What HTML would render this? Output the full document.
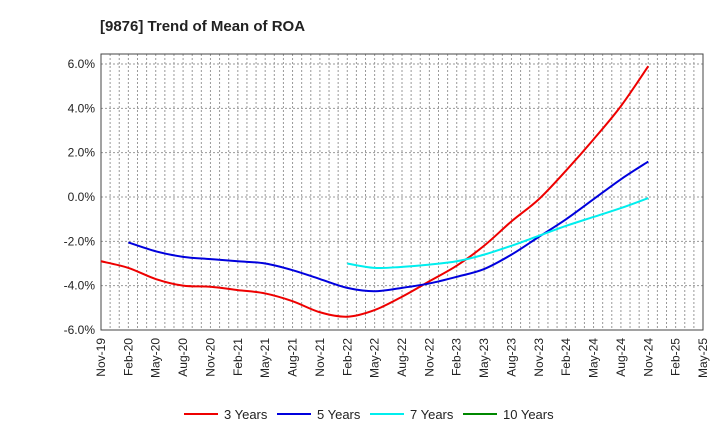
<!DOCTYPE html>
<html><head><meta charset="utf-8"><style>
body{margin:0;background:#fff;font-family:"Liberation Sans",sans-serif;}
svg text{font-family:"Liberation Sans",sans-serif;}
</style></head><body>
<svg id="chart" width="720" height="440">
<text x="100" y="31" font-size="15" font-weight="bold" fill="#222">[9876]  Trend of Mean of ROA</text>
<g id="grid"></g><g id="axes"></g><g id="series"></g><g id="legend"></g>
</svg>
<script>
const xLabels=["Nov-19","Feb-20","May-20","Aug-20","Nov-20","Feb-21","May-21","Aug-21","Nov-21","Feb-22","May-22","Aug-22","Nov-22","Feb-23","May-23","Aug-23","Nov-23","Feb-24","May-24","Aug-24","Nov-24","Feb-25","May-25"];
const yTicks=[6,4,2,0,-2,-4,-6];
const yTickLabels=["6.0%","4.0%","2.0%","0.0%","-2.0%","-4.0%","-6.0%"];
const seriesNames=["3 Years","5 Years","7 Years","10 Years"];
const seriesColors=["#ee0000","#0000dd","#00eeee","#008800"];
const seriesStart=[0,1,9,0];
const s3=[-2.9,-3.2,-3.7,-4.0,-4.05,-4.2,-4.35,-4.7,-5.2,-5.4,-5.1,-4.5,-3.8,-3.1,-2.2,-1.1,-0.1,1.2,2.6,4.1,5.9];
const s5=[-2.05,-2.45,-2.7,-2.8,-2.9,-3.0,-3.3,-3.7,-4.1,-4.25,-4.1,-3.9,-3.6,-3.25,-2.6,-1.8,-1.0,-0.1,0.8,1.6];
const s7=[-3.0,-3.2,-3.15,-3.05,-2.9,-2.6,-2.2,-1.75,-1.3,-0.9,-0.5,-0.05];
const s10=[];
const seriesData=[s3,s5,s7,s10];
const NS="http://www.w3.org/2000/svg";
const L=101,R=703,T=54,B=330;
const xq=i=>L+(R-L)*i/(xLabels.length-1);
const ys=v=>197-v*(B-64)/12;
function mk(tag,attrs,parent){const e=document.createElementNS(NS,tag);for(const k in attrs)e.setAttribute(k,attrs[k]);parent.appendChild(e);return e;}
const grid=document.getElementById('grid'),axes=document.getElementById('axes'),ser=document.getElementById('series'),leg=document.getElementById('legend');
for(let m=1;m<(xLabels.length-1)*3;m++){const x=L+(R-L)*m/((xLabels.length-1)*3);
 const g=mk('line',{x1:x,x2:x,y1:T,y2:B,stroke:'#999','stroke-dasharray':'2,2','stroke-width':1},grid);
 
 }
yTicks.forEach((v,i)=>{const y=ys(v);
 const g=mk('line',{x1:L,x2:R,y1:y,y2:y,stroke:'#999','stroke-dasharray':'2,2','stroke-width':1},grid);
 
 
 const t=mk('text',{x:L-6,y:y+4,'text-anchor':'end','font-size':12,fill:'#222'},axes);t.textContent=yTickLabels[i];
 
 });
const fr=mk('rect',{x:L,y:T,width:R-L,height:B-T,fill:'none',stroke:'#444','stroke-width':1},axes);


xLabels.forEach((lb,i)=>{const x=xq(i);
 const t=mk('text',{x:x+4,y:B+8,'text-anchor':'end','font-size':12,fill:'#222',transform:`rotate(-90 ${x+4} ${B+8})`},axes);t.textContent=lb;
 
 });
function smooth(pts){if(pts.length<2)return '';let d=`M${pts[0][0]},${pts[0][1]}`;
 for(let i=0;i<pts.length-1;i++){const p0=pts[i-1]||pts[i],p1=pts[i],p2=pts[i+1],p3=pts[i+2]||p2;
  d+=` C${p1[0]+(p2[0]-p0[0])/6},${p1[1]+(p2[1]-p0[1])/6} ${p2[0]-(p3[0]-p1[0])/6},${p2[1]-(p3[1]-p1[1])/6} ${p2[0]},${p2[1]}`;}
 return d;}
seriesData.forEach((arr,k)=>{const pts=arr.map((v,i)=>[xq(seriesStart[k]+i),ys(v)]);
 if(!pts.length)return;
 const p=mk('path',{d:smooth(pts),fill:'none',stroke:seriesColors[k],'stroke-width':2},ser);
 
 });
const legX=[184,277,370,463];
seriesNames.forEach((n,k)=>{const x=legX[k],y=414;
 const g=mk('g',{},leg);
 
 
 mk('line',{x1:x,x2:x+34,y1:y,y2:y,stroke:seriesColors[k],'stroke-width':2},g);
 const t=mk('text',{x:x+40,y:y+5,'font-size':13,fill:'#222'},g);t.textContent=n;});
</script>
</body></html>
